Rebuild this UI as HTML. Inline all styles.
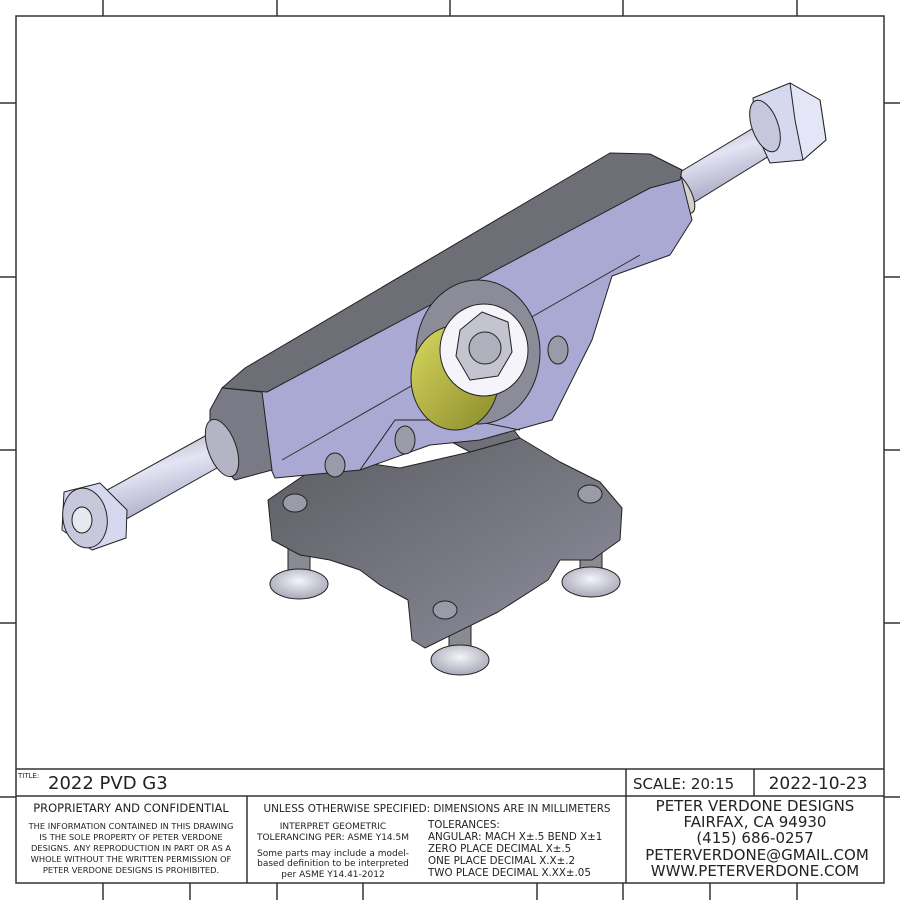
<!DOCTYPE html>
<html><head><meta charset="utf-8"><style>
html,body{margin:0;padding:0;background:#fff;}
svg{display:block}
text{font-family:"DejaVu Sans","Liberation Sans",sans-serif;fill:#222}
</style></head><body>
<svg width="900" height="900" viewBox="0 0 900 900" xmlns="http://www.w3.org/2000/svg">
<defs>
<linearGradient id="ax" x1="0" y1="0" x2="0.4" y2="1">
<stop offset="0" stop-color="#8a8aa0"/><stop offset="0.5" stop-color="#e4e4f4"/><stop offset="1" stop-color="#9a9ab8"/></linearGradient>
<linearGradient id="bp" x1="0" y1="0" x2="1" y2="1">
<stop offset="0" stop-color="#5c5c64"/><stop offset="0.6" stop-color="#7a7a84"/><stop offset="1" stop-color="#9090a6"/></linearGradient>
<linearGradient id="yl" x1="0" y1="0" x2="1" y2="1">
<stop offset="0" stop-color="#d8d860"/><stop offset="1" stop-color="#8a8a2a"/></linearGradient>
<radialGradient id="sc" cx="0.5" cy="0.4" r="0.6">
<stop offset="0" stop-color="#f4f4fa"/><stop offset="1" stop-color="#a8a8b8"/></radialGradient>
</defs>
<g stroke="#333" stroke-width="1.5" fill="none">
<rect x="16" y="16" width="868" height="867"/>
<line x1="103" y1="0" x2="103" y2="16"/><line x1="277" y1="0" x2="277" y2="16"/><line x1="450" y1="0" x2="450" y2="16"/><line x1="623" y1="0" x2="623" y2="16"/><line x1="797" y1="0" x2="797" y2="16"/>
<line x1="0" y1="103" x2="16" y2="103"/><line x1="0" y1="277" x2="16" y2="277"/><line x1="0" y1="450" x2="16" y2="450"/><line x1="0" y1="623" x2="16" y2="623"/><line x1="0" y1="797" x2="16" y2="797"/>
<line x1="884" y1="103" x2="900" y2="103"/><line x1="884" y1="277" x2="900" y2="277"/><line x1="884" y1="450" x2="900" y2="450"/><line x1="884" y1="623" x2="900" y2="623"/><line x1="884" y1="797" x2="900" y2="797"/>
<line x1="103" y1="883" x2="103" y2="900"/><line x1="190" y1="883" x2="190" y2="900"/><line x1="277" y1="883" x2="277" y2="900"/><line x1="363" y1="883" x2="363" y2="900"/><line x1="537" y1="883" x2="537" y2="900"/><line x1="623" y1="883" x2="623" y2="900"/><line x1="710" y1="883" x2="710" y2="900"/><line x1="797" y1="883" x2="797" y2="900"/>
<line x1="16" y1="769" x2="884" y2="769"/>
<line x1="16" y1="796" x2="884" y2="796"/>
<line x1="247" y1="796" x2="247" y2="883"/>
<line x1="626" y1="769" x2="626" y2="883"/>
<line x1="754" y1="769" x2="754" y2="796"/>
</g>
<g stroke="#222" stroke-width="1" stroke-linejoin="round">
<rect x="288" y="530" width="22" height="50" fill="#8a8a92"/>
<rect x="449" y="600" width="22" height="58" fill="#8a8a92"/>
<rect x="580" y="535" width="22" height="45" fill="#8a8a92"/>
<ellipse cx="299" cy="584" rx="29" ry="15" fill="url(#sc)"/>
<ellipse cx="460" cy="660" rx="29" ry="15" fill="url(#sc)"/>
<ellipse cx="591" cy="582" rx="29" ry="15" fill="url(#sc)"/>
<path d="M268,500 L300,478 L330,458 L400,468 L470,452 L520,438 L560,462 L600,482 L622,508 L620,540 L592,560 L560,560 L548,580 L498,612 L425,648 L412,640 L408,600 L380,585 L360,570 L330,560 L300,555 L272,540 Z" fill="url(#bp)"/>
<path d="M330,458 L360,440 L430,430 L470,452 L520,438 L510,425 L440,440 L400,445 Z" fill="#707078"/>
<ellipse cx="295" cy="503" rx="12" ry="9" fill="#9a9aa8"/>
<ellipse cx="590" cy="494" rx="12" ry="9" fill="#9a9aa8"/>
<ellipse cx="445" cy="610" rx="12" ry="9" fill="#9a9aa8"/>
<polygon points="80,505 225,425 240,455 98,535" fill="url(#ax)"/>
<ellipse cx="232" cy="442" rx="13" ry="24" fill="#d8d0cc" transform="rotate(-28 232 442)"/>
<polygon points="64,492 100,483 127,510 126,538 92,550 62,530" fill="#d6d8f0"/>
<ellipse cx="85" cy="518" rx="22" ry="30" fill="#c8c8dc" transform="rotate(-10 85 518)"/>
<ellipse cx="82" cy="520" rx="10" ry="13" fill="#e8e8f0"/>
<polygon points="670,178 780,112 795,140 685,208" fill="url(#ax)"/>
<ellipse cx="680" cy="192" rx="10" ry="24" fill="#d8d0cc" transform="rotate(-30 680 192)"/>
<polygon points="753,98 790,83 820,100 826,140 803,160 770,163 755,130" fill="#d6d8f0"/>
<polygon points="790,83 820,100 826,140 803,160 795,120" fill="#e4e6f8"/>
<ellipse cx="765" cy="126" rx="13" ry="27" fill="#c6c6dc" transform="rotate(-20 765 126)"/>
<path d="M262,392 L680,172 L692,220 L670,255 L612,276 L592,340 L552,420 L480,440 L430,445 L360,470 L275,478 L258,440 Z" fill="#a9a9d4"/>
<path d="M222,388 L245,368 L610,153 L650,154 L682,170 L680,180 L650,188 L267,392 Z" fill="#6e6e76"/>
<path d="M210,410 L222,388 L262,392 L272,470 L235,480 L210,455 Z" fill="#7a7a86"/>
<ellipse cx="222" cy="448" rx="14" ry="30" fill="#b4b4c4" transform="rotate(-20 222 448)"/>
<path d="M360,470 L395,420 L470,420 L520,430" fill="none"/>
<path d="M282,460 L640,255" fill="none" stroke="#333"/>
<ellipse cx="478" cy="352" rx="62" ry="72" fill="#8c8c98"/>
<ellipse cx="455" cy="378" rx="44" ry="52" fill="url(#yl)"/>
<ellipse cx="484" cy="350" rx="44" ry="46" fill="#f4f4fa"/>
<polygon points="460,330 482,312 508,322 512,352 498,376 470,380 456,356" fill="#c4c4d0"/>
<circle cx="485" cy="348" r="16" fill="#b0b0bc"/>
<ellipse cx="558" cy="350" rx="10" ry="14" fill="#9a9aa8"/>
<ellipse cx="405" cy="440" rx="10" ry="14" fill="#9a9aa8"/>
<ellipse cx="335" cy="465" rx="10" ry="12" fill="#9a9aa8"/>
</g>
<text x="18" y="778" font-size="7">TITLE:</text>
<text x="48" y="789" font-size="18">2022 PVD G3</text>
<text x="633" y="789" font-size="15">SCALE: 20:15</text>
<text x="818" y="789" font-size="17" text-anchor="middle">2022-10-23</text>
<text x="131" y="812" font-size="11.5" text-anchor="middle">PROPRIETARY AND CONFIDENTIAL</text>
<g font-size="8.3" text-anchor="middle">
<text x="131" y="829">THE INFORMATION CONTAINED IN THIS DRAWING</text>
<text x="131" y="840">IS THE SOLE PROPERTY OF PETER VERDONE</text>
<text x="131" y="851">DESIGNS.  ANY  REPRODUCTION IN PART OR AS A</text>
<text x="131" y="862">WHOLE WITHOUT THE WRITTEN PERMISSION OF</text>
<text x="131" y="873">PETER VERDONE DESIGNS IS PROHIBITED.</text>
</g>
<text x="437" y="812" font-size="10.4" text-anchor="middle">UNLESS OTHERWISE SPECIFIED: DIMENSIONS ARE IN MILLIMETERS</text>
<g font-size="9" text-anchor="middle">
<text x="333" y="829">INTERPRET GEOMETRIC</text>
<text x="333" y="840">TOLERANCING PER: ASME Y14.5M</text>
<text x="333" y="856">Some parts may include a model-</text>
<text x="333" y="866">based definition to be interpreted</text>
<text x="333" y="877">per ASME Y14.41-2012</text>
</g>
<g font-size="10.3">
<text x="428" y="828">TOLERANCES:</text>
<text x="428" y="840">ANGULAR: MACH X±.5   BEND X±1</text>
<text x="428" y="852">ZERO PLACE DECIMAL  X±.5</text>
<text x="428" y="864">ONE PLACE DECIMAL   X.X±.2</text>
<text x="428" y="876">TWO PLACE DECIMAL  X.XX±.05</text>
</g>
<g font-size="15" text-anchor="middle">
<text x="755" y="811">PETER VERDONE DESIGNS</text>
<text x="755" y="827">FAIRFAX, CA 94930</text>
<text x="755" y="843">(415) 686-0257</text>
<text x="757" y="860">PETERVERDONE@GMAIL.COM</text>
<text x="755" y="876">WWW.PETERVERDONE.COM</text>
</g>
</svg>
</body></html>
